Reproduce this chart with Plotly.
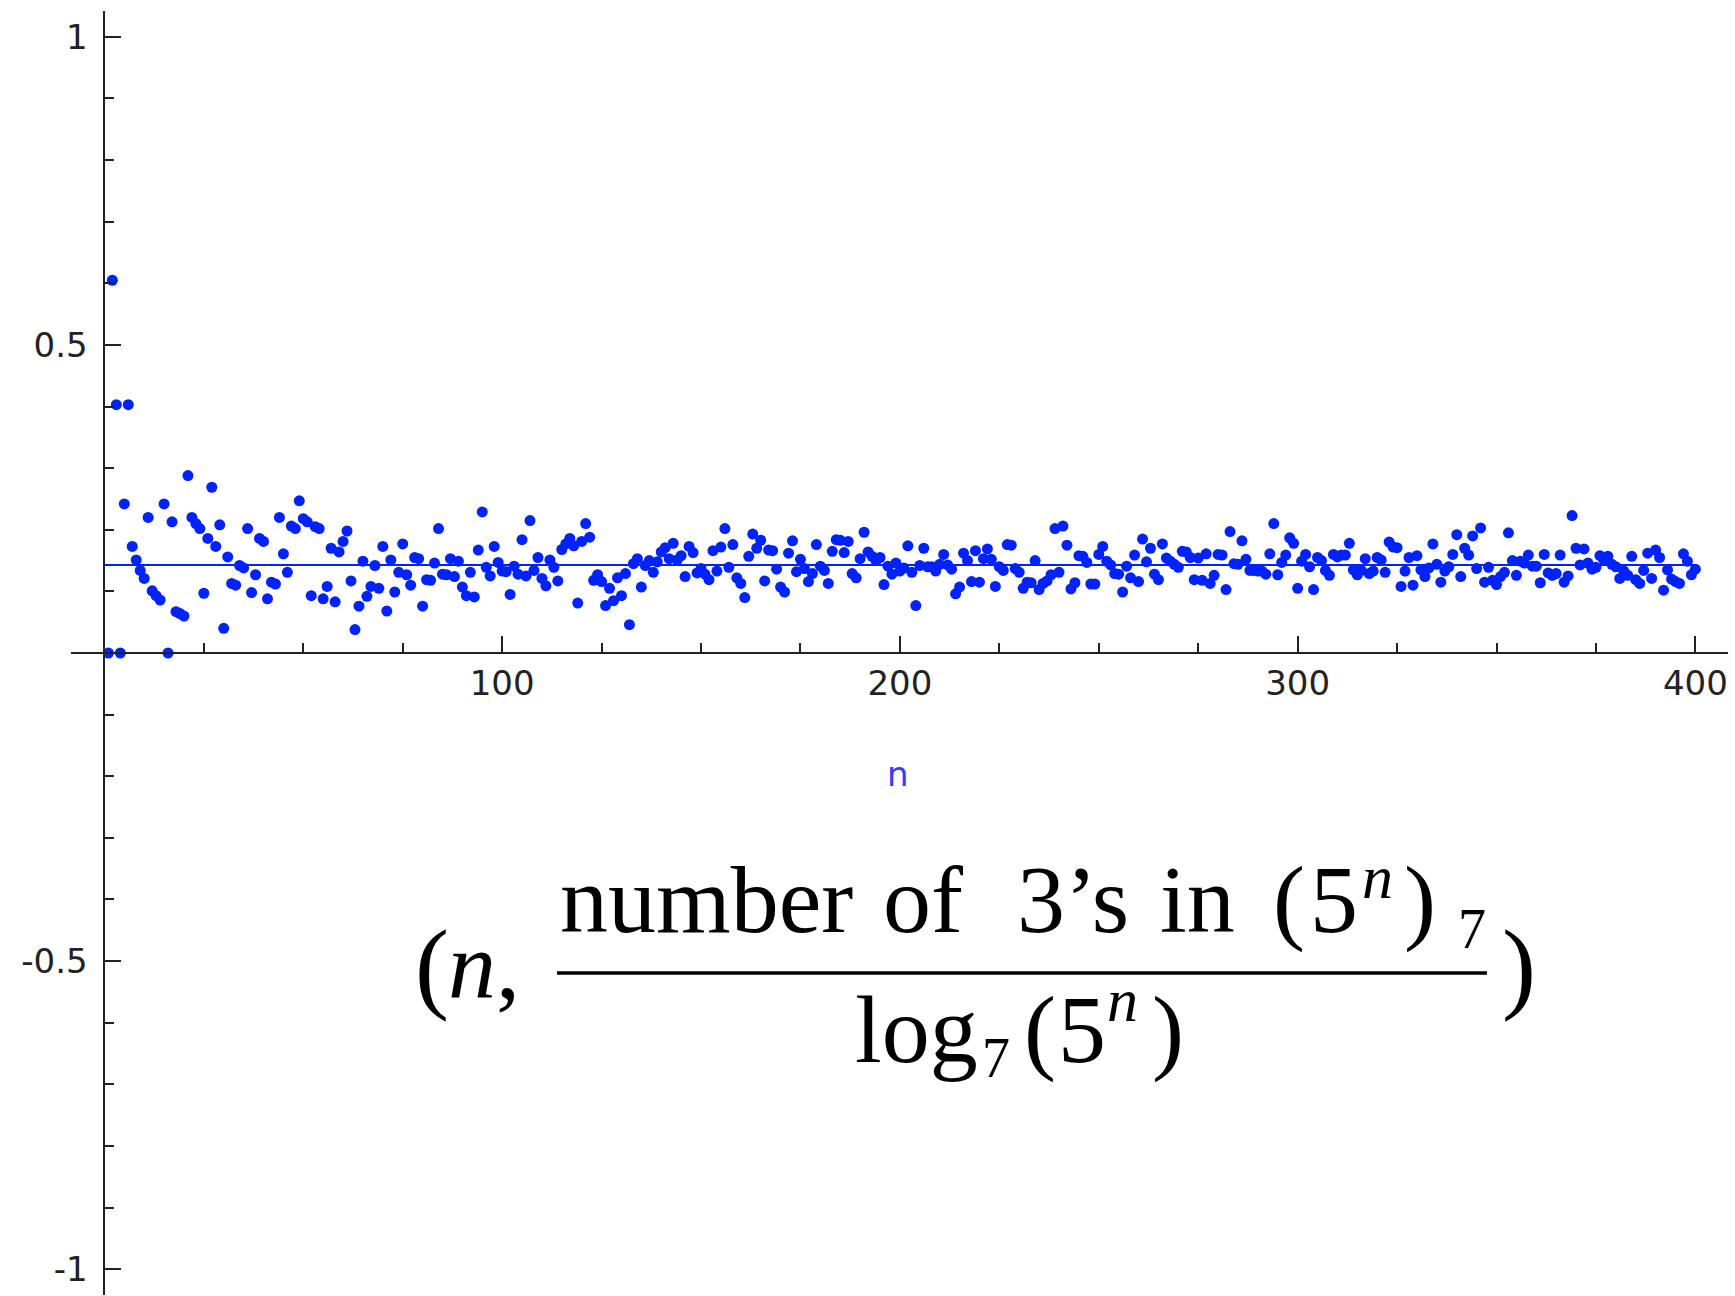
import plotly.graph_objects as go

# n values 1..400 and the ratio (number of 3's in base-7 digits of 5^n) / log_7(5^n)
n_values = list(range(1, 401))
ratio_values = [
    0.000, 0.605, 0.403, 0.000, 0.242, 0.403, 0.173, 0.151, 0.134, 0.121, 0.220, 0.101, 0.093, 0.086, 0.242, 0.000, 0.213, 0.067, 0.064, 0.060,
    0.288, 0.220, 0.210, 0.202, 0.097, 0.186, 0.269, 0.173, 0.208, 0.040, 0.156, 0.113, 0.110, 0.142, 0.138, 0.202, 0.098, 0.127, 0.186, 0.181,
    0.088, 0.115, 0.112, 0.220, 0.161, 0.131, 0.206, 0.202, 0.247, 0.218, 0.213, 0.093, 0.205, 0.202, 0.088, 0.108, 0.170, 0.083, 0.164, 0.181,
    0.198, 0.117, 0.038, 0.076, 0.149, 0.092, 0.108, 0.142, 0.105, 0.173, 0.068, 0.151, 0.099, 0.131, 0.177, 0.127, 0.110, 0.155, 0.153, 0.076,
    0.119, 0.118, 0.146, 0.202, 0.128, 0.127, 0.153, 0.124, 0.149, 0.107, 0.093, 0.131, 0.091, 0.167, 0.229, 0.139, 0.125, 0.173, 0.147, 0.133,
    0.132, 0.095, 0.141, 0.128, 0.184, 0.125, 0.215, 0.134, 0.155, 0.121, 0.109, 0.151, 0.139, 0.117, 0.168, 0.177, 0.186, 0.174, 0.081, 0.181,
    0.210, 0.188, 0.118, 0.127, 0.116, 0.077, 0.105, 0.085, 0.122, 0.093, 0.129, 0.046, 0.145, 0.153, 0.107, 0.142, 0.150, 0.131, 0.148, 0.164,
    0.171, 0.153, 0.178, 0.151, 0.158, 0.124, 0.173, 0.163, 0.130, 0.137, 0.128, 0.119, 0.166, 0.133, 0.172, 0.202, 0.139, 0.176, 0.122, 0.113,
    0.090, 0.157, 0.193, 0.170, 0.183, 0.117, 0.167, 0.166, 0.136, 0.107, 0.099, 0.162, 0.182, 0.132, 0.152, 0.137, 0.116, 0.129, 0.176, 0.141,
    0.134, 0.113, 0.165, 0.184, 0.183, 0.163, 0.181, 0.129, 0.122, 0.153, 0.196, 0.164, 0.157, 0.150, 0.155, 0.111, 0.141, 0.128, 0.146, 0.133,
    0.138, 0.174, 0.131, 0.077, 0.142, 0.170, 0.140, 0.140, 0.133, 0.144, 0.160, 0.143, 0.136, 0.096, 0.107, 0.162, 0.150, 0.116, 0.166, 0.115,
    0.153, 0.169, 0.152, 0.108, 0.140, 0.134, 0.176, 0.175, 0.137, 0.131, 0.105, 0.115, 0.114, 0.150, 0.103, 0.113, 0.117, 0.127, 0.202, 0.131,
    0.206, 0.175, 0.104, 0.114, 0.158, 0.157, 0.147, 0.112, 0.112, 0.160, 0.173, 0.149, 0.143, 0.129, 0.128, 0.099, 0.141, 0.122, 0.159, 0.116,
    0.185, 0.148, 0.170, 0.128, 0.119, 0.177, 0.154, 0.149, 0.144, 0.139, 0.165, 0.164, 0.155, 0.119, 0.154, 0.118, 0.161, 0.113, 0.126, 0.160,
    0.159, 0.103, 0.197, 0.145, 0.144, 0.182, 0.152, 0.134, 0.134, 0.133, 0.133, 0.128, 0.161, 0.210, 0.127, 0.147, 0.159, 0.187, 0.178, 0.105,
    0.149, 0.160, 0.140, 0.103, 0.155, 0.150, 0.134, 0.126, 0.160, 0.156, 0.159, 0.159, 0.178, 0.135, 0.127, 0.134, 0.153, 0.129, 0.133, 0.155,
    0.151, 0.131, 0.180, 0.172, 0.171, 0.108, 0.133, 0.155, 0.110, 0.158, 0.135, 0.124, 0.138, 0.177, 0.144, 0.115, 0.133, 0.140, 0.160, 0.192,
    0.124, 0.170, 0.159, 0.190, 0.137, 0.203, 0.115, 0.139, 0.118, 0.111, 0.124, 0.131, 0.195, 0.150, 0.126, 0.149, 0.146, 0.159, 0.141, 0.141,
    0.114, 0.160, 0.130, 0.126, 0.129, 0.159, 0.115, 0.125, 0.223, 0.170, 0.143, 0.169, 0.146, 0.136, 0.139, 0.158, 0.151, 0.157, 0.144, 0.140,
    0.121, 0.133, 0.126, 0.157, 0.119, 0.113, 0.134, 0.162, 0.121, 0.167, 0.155, 0.102, 0.135, 0.120, 0.116, 0.113, 0.161, 0.149, 0.127, 0.136,
]

# reference line at the expected proportion 1/7
ref_line_x = [0, 400]
ref_line_y = [0.142857, 0.142857]

x_tick_vals = [100, 200, 300, 400]
x_tick_text = ["100", "200", "300", "400"]
y_tick_vals = [-1, -0.5, 0.5, 1]
y_tick_text = ["-1", "-0.5", "0.5", "1"]

W, H = 1735, 1296
ML, MR, MT, MB = 71, 7, 11, 1
XR = [-8.4, 408.2]
YR = [-1.042, 1.042]
PW, PH = W - ML - MR, H - MT - MB

def px_x(p):
    return (p - ML) / PW

def px_y(p):
    return (H - MB - p) / PH

BLUE = "#0022ff"
AX = "#222222"

fig = go.Figure()
fig.add_trace(go.Scatter(x=ref_line_x, y=ref_line_y, mode="lines",
                         line=dict(color=BLUE, width=1.8), hoverinfo="skip", showlegend=False))
fig.add_trace(go.Scatter(x=n_values, y=ratio_values, mode="markers",
                         marker=dict(color=BLUE, size=11, line=dict(width=0)), showlegend=False))

axis_font = dict(family="DejaVu Sans", size=34, color=AX)
fig.update_layout(
    width=W, height=H,
    margin=dict(l=ML, r=MR, t=MT, b=MB, pad=0),
    plot_bgcolor="white", paper_bgcolor="white",
    showlegend=False,
    xaxis=dict(range=XR, anchor="free", position=(0 - YR[0]) / (YR[1] - YR[0]),
               showline=True, linecolor=AX, linewidth=2, showgrid=False, zeroline=False,
               tickmode="array", tickvals=x_tick_vals, ticktext=x_tick_text,
               ticks="inside", ticklen=16, tickwidth=1.5, tickcolor=AX,
               tickfont=axis_font, ticklabelstandoff=0,
               minor=dict(tickmode="linear", tick0=0, dtick=25, ticks="inside", ticklen=9,
                          tickwidth=1.5, tickcolor=AX, showgrid=False)),
    yaxis=dict(range=YR, anchor="free", position=(0 - XR[0]) / (XR[1] - XR[0]),
               showline=True, linecolor=AX, linewidth=2, showgrid=False, zeroline=False,
               tickmode="array", tickvals=y_tick_vals, ticktext=y_tick_text,
               ticks="inside", ticklen=16, tickwidth=1.5, tickcolor=AX,
               tickfont=axis_font, ticklabelstandoff=9,
               minor=dict(tickmode="linear", tick0=0, dtick=0.1, ticks="inside", ticklen=9,
                          tickwidth=1.5, tickcolor=AX, showgrid=False)),
)

# axis label
fig.add_annotation(x=px_x(898), y=px_y(774), xref="paper", yref="paper", text="n",
                   showarrow=False, xanchor="center", yanchor="middle",
                   font=dict(family="DejaVu Sans", size=34, color="#3a3aff"))

# formula (pieces placed by left edge and baseline, in pixels)
SERIF = "Liberation Serif"
FS = 96
PFS = 102
SUB = 56
SUP = 62

def piece(text, left, baseline, size=FS):
    fig.add_annotation(x=px_x(left), y=px_y(baseline - 0.34 * size), xref="paper", yref="paper",
                       text=text, showarrow=False, xanchor="left", yanchor="middle",
                       font=dict(family=SERIF, size=size, color="black"))

NUM_BASE = 932
DEN_BASE = 1062
# numerator
piece("number", 558, NUM_BASE)
piece("of", 881, NUM_BASE)
piece("3’s", 1015, NUM_BASE)
piece("in", 1158, NUM_BASE)
piece("(", 1271, NUM_BASE)
piece("5", 1308, NUM_BASE)
piece("<i>n</i>", 1360, 898, SUP)
piece(")", 1402, NUM_BASE)
piece("7", 1456, 948, SUB)
# denominator
piece("log", 853, DEN_BASE)
piece("7", 980, 1077, SUB)
piece("(", 1022, DEN_BASE)
piece("5", 1056, DEN_BASE)
piece("<i>n</i>", 1105, 1021, SUP)
piece(")", 1150, DEN_BASE)
# outer pair
piece("(", 413, 1000, PFS)
piece("<i>n</i>,", 446, 998)
piece(")", 1500, 1000, PFS)

fig.add_shape(type="line", xref="paper", yref="paper",
              x0=px_x(557), x1=px_x(1487), y0=px_y(973), y1=px_y(973),
              line=dict(color="black", width=3.5))

fig.write_html("out.html")
